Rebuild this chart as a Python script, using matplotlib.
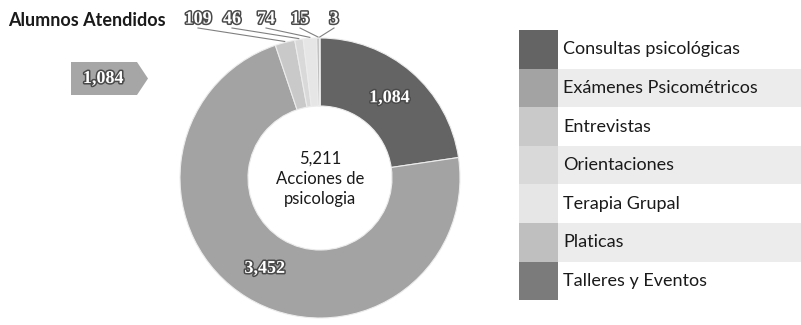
import matplotlib
matplotlib.use("Agg")
import matplotlib.pyplot as plt
from matplotlib.patches import Rectangle, Polygon
import matplotlib.patheffects as pe
import numpy as np

# ---- data ----
categories = ["Consultas psicológicas", "Exámenes Psicométricos", "Entrevistas",
              "Orientaciones", "Terapia Grupal", "Platicas", "Talleres y Eventos"]
values = [1084, 3452, 109, 46, 74, 15, 3]
colors = ["#646464", "#a3a3a3", "#c9c9c9", "#d9d9d9", "#e6e6e6", "#bfbfbf", "#7b7b7b"]
total_actions = 5211
title = "Alumnos Atendidos"
center_caption = "Acciones de\npsicologia"
highlight_index = 0  # category repeated in the arrow callout

W, H = 801, 325
fig = plt.figure(figsize=(W / 100, H / 100), dpi=100)

# overlay axes in pixel coordinates (y grows downward)
ov = fig.add_axes([0, 0, 1, 1])
ov.set_xlim(0, W)
ov.set_ylim(H, 0)
ov.axis("off")

value_style = dict(color="white", fontweight="bold", family="Liberation Serif",
                   fontsize=13, ha="center", va="center",
                   path_effects=[pe.withStroke(linewidth=2.2, foreground="#4a4a4a")])

# title
ov.text(8, 20, title, fontsize=13, fontweight="bold", family="Lato",
        color="#1a1a1a", ha="left", va="center")

# arrow-shaped callout
ov.add_patch(Polygon([(71, 62), (137, 62), (148, 78.5), (137, 95), (71, 95)],
                     closed=True, facecolor="#a6a6a6", edgecolor="none"))
ov.text(103, 78.5, f"{values[highlight_index]:,}", **value_style)

# legend: stacked swatches with banded rows
row_top, row_h = 30, 38.6
for i, (name, col) in enumerate(zip(categories, colors)):
    y0 = row_top + i * row_h
    if i % 2 == 1:
        ov.add_patch(Rectangle((558, y0), W - 558, row_h, facecolor="#ececec",
                               edgecolor="none"))
    ov.add_patch(Rectangle((519, y0), 39, row_h, facecolor=col, edgecolor="none"))
    ov.text(563, y0 + row_h / 2, name, fontsize=13, family="Lato",
            color="#1a1a1a", ha="left", va="center")

# ---- donut ----
cx, cy, R, ring = 320, 178, 140, 68
half = 200
ax = fig.add_axes([(cx - half) / W, (H - cy - half) / H, 2 * half / W, 2 * half / H])
wedges, _ = ax.pie(values, colors=colors, radius=R, startangle=90, counterclock=False,
                   wedgeprops=dict(width=ring, edgecolor="#ececec", linewidth=0.8))
ax.set_xlim(-half, half)
ax.set_ylim(-half, half)
ax.set_aspect("equal")
ax.axis("off")

r_mid = R - ring / 2
small_k = 0
for w, v in zip(wedges, values):
    ang = np.deg2rad((w.theta1 + w.theta2) / 2)
    sweep = abs(w.theta2 - w.theta1)
    if sweep >= 30:
        ax.text(r_mid * np.cos(ang), r_mid * np.sin(ang), f"{v:,}", **value_style)
    else:
        # thin wedges: label above the ring with a leader line
        lx, ly = -122 + 34 * small_k, cy - 19
        ex, ey = (R + 1) * np.cos(ang), (R + 1) * np.sin(ang)
        ax.plot([ex, lx], [ey, ly - 9], color="#808080", lw=0.8, clip_on=False)
        ax.text(lx, ly, f"{v:,}", clip_on=False, **value_style)
        small_k += 1

ax.text(0, -1, f"{total_actions:,}\n{center_caption}", fontsize=12, family="Lato",
        color="#1a1a1a", ha="center", va="center", linespacing=1.3)

fig.savefig("out.png", dpi=100)
